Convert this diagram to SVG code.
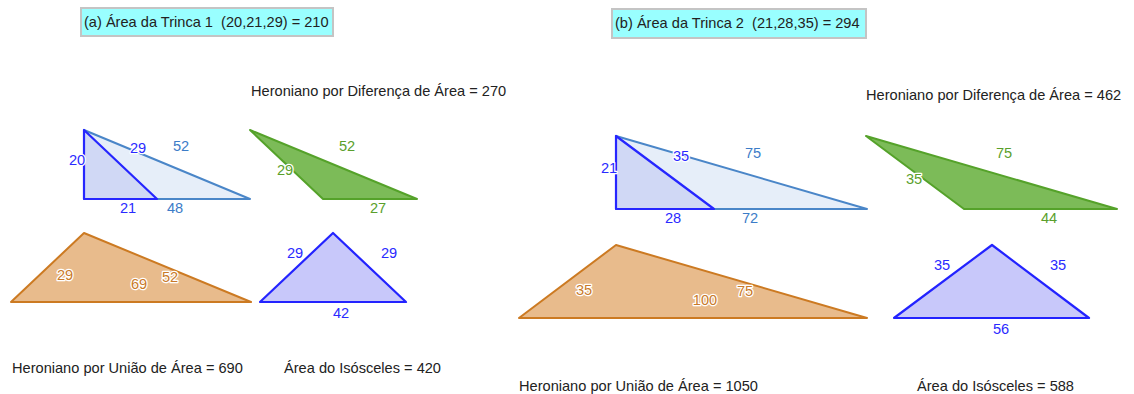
<svg xmlns="http://www.w3.org/2000/svg" width="1134" height="394" viewBox="0 0 1134 394">
<style>
text{font-family:"Liberation Sans",Arial,sans-serif;font-size:14.6px;white-space:pre}
.t{fill:#222}
.box{fill:#99ffff;stroke:#c4c4c4;stroke-width:2}
.lbl{paint-order:stroke;stroke:#fff;stroke-width:2.5;stroke-linejoin:round;text-anchor:middle}
.db{fill:#2a2aff}
.mb{fill:#3c7cc8}
.gr{fill:#5a9f2c}
.or{fill:#c97a2a}
.big{fill:#e6eef9;stroke:#4a86c8;stroke-width:2;stroke-linejoin:round}
.small{fill:#d0d8f5;stroke:#2626ff;stroke-width:2.2;stroke-linejoin:round}
.green{fill:#7cbb58;stroke:#55a22a;stroke-width:2;stroke-linejoin:round}
.orange{fill:#e8bb8c;stroke:#cc7a22;stroke-width:2;stroke-linejoin:round}
.iso{fill:#c8c8fa;stroke:#2323ff;stroke-width:2.2;stroke-linejoin:round}
</style>
<rect width="1134" height="394" fill="#fff"/>
<g id="left">
<g id="title-a"><rect class="box" x="81" y="8" width="252" height="28"/><text class="t" x="84" y="27" xml:space="preserve">(a) Área da Trinca 1  (20,21,29) = 210</text></g>
<g id="diff-a-label"><text class="t" x="251" y="96">Heroniano por Diferença de Área = 270</text></g>
<g id="trinca-a">
<polygon class="big" points="84,130 84,199 250,199"/>
<polygon class="small" points="84,130 84,199 157,199"/>
<text class="lbl db" x="77" y="165">20</text>
<text class="lbl db" x="138" y="153">29</text>
<text class="lbl mb" x="181" y="151">52</text>
<text class="lbl db" x="128" y="213">21</text>
<text class="lbl mb" x="175" y="213">48</text>
</g>
<g id="diff-a">
<polygon class="green" points="250,130 323,199 417,199"/>
<text class="lbl gr" x="347" y="151">52</text>
<text class="lbl gr" x="285" y="175">29</text>
<text class="lbl gr" x="378" y="213">27</text>
</g>
<g id="union-a">
<polygon class="orange" points="11,302 84,233 251,302"/>
<text class="lbl or" x="65" y="280">29</text>
<text class="lbl or" x="139" y="289">69</text>
<text class="lbl or" x="170" y="282">52</text>
</g>
<g id="iso-a">
<polygon class="iso" points="260,302 333,233 406,302"/>
<text class="lbl db" x="295" y="258">29</text>
<text class="lbl db" x="389" y="258">29</text>
<text class="lbl db" x="341" y="318">42</text>
</g>
<g id="union-a-label"><text class="t" x="12" y="373">Heroniano por União de Área = 690</text></g>
<g id="iso-a-label"><text class="t" x="284" y="373">Área do Isósceles = 420</text></g>
</g>
<g id="right">
<g id="title-b"><rect class="box" x="612" y="9" width="254" height="29"/><text class="t" x="615" y="28" xml:space="preserve">(b) Área da Trinca 2  (21,28,35) = 294</text></g>
<g id="diff-b-label"><text class="t" x="866" y="100">Heroniano por Diferença de Área = 462</text></g>
<g id="trinca-b">
<polygon class="big" points="616,136 616,209 867,209"/>
<polygon class="small" points="616,136 616,209 714,209"/>
<text class="lbl db" x="609" y="173">21</text>
<text class="lbl db" x="681" y="161">35</text>
<text class="lbl mb" x="753" y="158">75</text>
<text class="lbl db" x="673" y="223">28</text>
<text class="lbl mb" x="750" y="223">72</text>
</g>
<g id="diff-b">
<polygon class="green" points="866,136 964,209 1117,209"/>
<text class="lbl gr" x="1004" y="158">75</text>
<text class="lbl gr" x="914" y="184">35</text>
<text class="lbl gr" x="1049" y="223">44</text>
</g>
<g id="union-b">
<polygon class="orange" points="519,318 616,245 867,318"/>
<text class="lbl or" x="584" y="295">35</text>
<text class="lbl or" x="705" y="305">100</text>
<text class="lbl or" x="745" y="296">75</text>
</g>
<g id="iso-b">
<polygon class="iso" points="894,318 992,245 1089,318"/>
<text class="lbl db" x="942" y="270">35</text>
<text class="lbl db" x="1058" y="270">35</text>
<text class="lbl db" x="1001" y="334">56</text>
</g>
<g id="union-b-label"><text class="t" x="519" y="391">Heroniano por União de Área = 1050</text></g>
<g id="iso-b-label"><text class="t" x="917" y="391">Área do Isósceles = 588</text></g>
</g>
<g id="connectors"/>
</svg>
